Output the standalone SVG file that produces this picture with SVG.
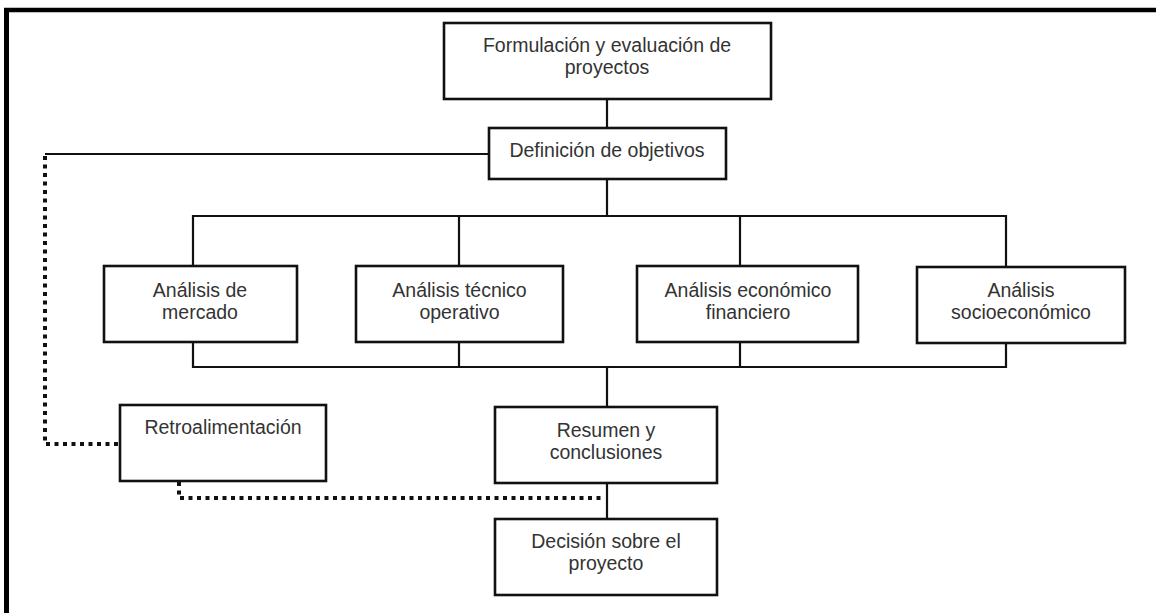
<svg xmlns="http://www.w3.org/2000/svg" width="1156" height="613" viewBox="0 0 1156 613">
  <style>
    .box { fill: #ffffff; stroke: #111111; stroke-width: 2.6; }
    .lbl { font-family: "Liberation Sans", Arial, sans-serif; font-size: 19.5px; fill: #333333; text-anchor: middle; }
    .conn { fill: none; stroke: #111111; stroke-width: 2.2; }
    .dot { fill: none; stroke: #111111; stroke-width: 4; stroke-dasharray: 4 4.5; }
    .frame { fill: none; stroke: #000000; }
  </style>
  <rect width="1156" height="613" fill="#ffffff"/>
  <g id="frame">
    <line class="frame" x1="4" y1="10" x2="1156" y2="10" stroke-width="4.5"/>
    <line class="frame" x1="6.5" y1="8" x2="6.5" y2="613" stroke-width="5"/>
  </g>
  <g id="connectors">
    <line class="conn" x1="607" y1="99" x2="607" y2="128"/>
    <line class="conn" x1="489" y1="154" x2="45" y2="154"/>
    <line class="conn" x1="607" y1="179" x2="607" y2="216"/>
    <polyline class="conn" points="193,266 193,216 1006,216 1006,267"/>
    <line class="conn" x1="459" y1="216" x2="459" y2="266"/>
    <line class="conn" x1="740" y1="216" x2="740" y2="266"/>
    <polyline class="conn" points="193,342 193,367 1006,367 1006,343"/>
    <line class="conn" x1="459" y1="342" x2="459" y2="367"/>
    <line class="conn" x1="740" y1="342" x2="740" y2="367"/>
    <line class="conn" x1="607" y1="367" x2="607" y2="407"/>
    <line class="conn" x1="607" y1="483" x2="607" y2="519"/>
    <polyline class="dot" points="45,156 45,444 120,444"/>
    <polyline class="dot" points="179,482 179,498 605,498"/>
  </g>
  <g id="node-formulacion">
    <rect class="box" x="444" y="23" width="327" height="76"/>
    <text class="lbl" x="607" y="52">Formulación y evaluación de</text>
    <text class="lbl" x="607" y="74">proyectos</text>
  </g>
  <g id="node-definicion">
    <rect class="box" x="489" y="128" width="237" height="51"/>
    <text class="lbl" x="607" y="157">Definición de objetivos</text>
  </g>
  <g id="node-mercado">
    <rect class="box" x="104" y="266" width="193" height="76"/>
    <text class="lbl" x="200" y="297">Análisis de</text>
    <text class="lbl" x="200" y="319">mercado</text>
  </g>
  <g id="node-tecnico">
    <rect class="box" x="356" y="266" width="207" height="76"/>
    <text class="lbl" x="459.5" y="297">Análisis técnico</text>
    <text class="lbl" x="459.5" y="319">operativo</text>
  </g>
  <g id="node-economico">
    <rect class="box" x="637" y="266" width="221" height="76"/>
    <text class="lbl" x="748" y="297">Análisis económico</text>
    <text class="lbl" x="748" y="319">financiero</text>
  </g>
  <g id="node-socioeconomico">
    <rect class="box" x="917" y="267" width="208" height="76"/>
    <text class="lbl" x="1021" y="297">Análisis</text>
    <text class="lbl" x="1021" y="319">socioeconómico</text>
  </g>
  <g id="node-retroalimentacion">
    <rect class="box" x="120" y="405" width="206" height="76"/>
    <text class="lbl" x="223" y="434">Retroalimentación</text>
  </g>
  <g id="node-resumen">
    <rect class="box" x="495" y="407" width="222" height="76"/>
    <text class="lbl" x="606" y="437">Resumen y</text>
    <text class="lbl" x="606" y="459">conclusiones</text>
  </g>
  <g id="node-decision">
    <rect class="box" x="495" y="519" width="222" height="76"/>
    <text class="lbl" x="606" y="548">Decisión sobre el</text>
    <text class="lbl" x="606" y="570">proyecto</text>
  </g>
</svg>
